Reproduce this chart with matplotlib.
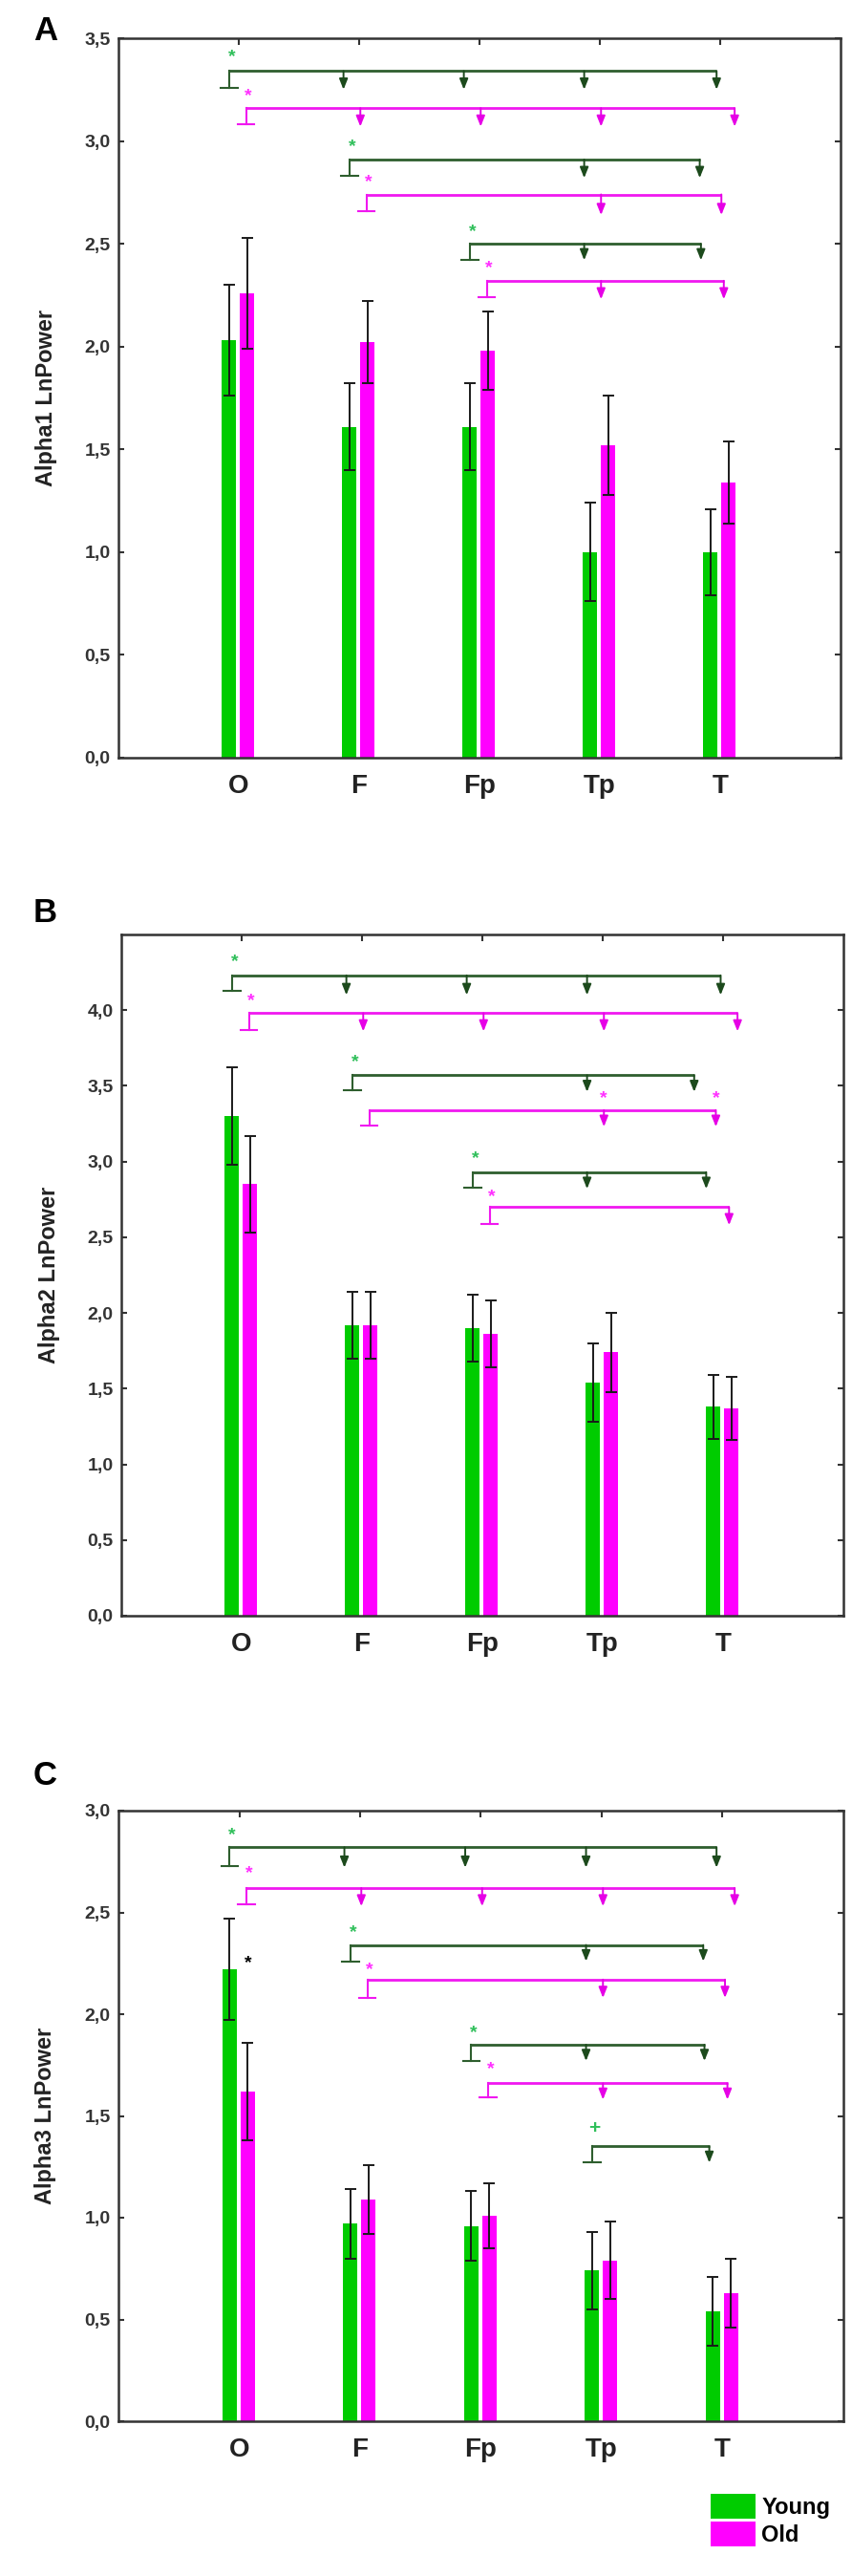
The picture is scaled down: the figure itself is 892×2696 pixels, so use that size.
import matplotlib
matplotlib.use("Agg")
import matplotlib.pyplot as plt
from matplotlib.patches import Patch
from matplotlib import font_manager
import numpy as np

# ---------------- data ----------------
categories = ["O", "F", "Fp", "Tp", "T"]

a_young = [2.03, 1.61, 1.61, 1.00, 1.00]
a_young_se = [0.27, 0.21, 0.21, 0.24, 0.21]
a_old = [2.26, 2.02, 1.98, 1.52, 1.34]
a_old_se = [0.27, 0.20, 0.19, 0.24, 0.20]

b_young = [3.30, 1.92, 1.90, 1.54, 1.38]
b_young_se = [0.32, 0.22, 0.22, 0.26, 0.21]
b_old = [2.85, 1.92, 1.86, 1.74, 1.37]
b_old_se = [0.32, 0.22, 0.22, 0.26, 0.21]

c_young = [2.22, 0.97, 0.96, 0.74, 0.54]
c_young_se = [0.25, 0.17, 0.17, 0.19, 0.17]
c_old = [1.62, 1.09, 1.01, 0.79, 0.63]
c_old_se = [0.24, 0.17, 0.16, 0.19, 0.17]

ylabels = ["Alpha1 LnPower", "Alpha2 LnPower", "Alpha3 LnPower"]
panel_letters = ["A", "B", "C"]
legend_labels = ["Young", "Old"]

# significance brackets: (group, start, targets, line_y, cap_y, tip_y, mark_y, end_shift, mark, mark_at)
a_brackets = [
    ("Y", "O", ["F", "Fp", "Tp", "T"], 3.34, 3.26, 3.25, 3.41, 0.10, "*", "start"),
    ("O", "O", ["F", "Fp", "Tp", "T"], 3.16, 3.08, 3.07, 3.22, 0.11, "*", "start"),
    ("Y", "F", ["Tp", "T"], 2.91, 2.83, 2.82, 2.97, -0.04, "*", "start"),
    ("O", "F", ["Tp", "T"], 2.74, 2.66, 2.64, 2.80, 0.00, "*", "start"),
    ("Y", "Fp", ["Tp", "T"], 2.50, 2.42, 2.42, 2.56, -0.03, "*", "start"),
    ("O", "Fp", ["Tp", "T"], 2.32, 2.24, 2.23, 2.38, 0.02, "*", "start"),
]
b_brackets = [
    ("Y", "O", ["F", "Fp", "Tp", "T"], 4.23, 4.13, 4.10, 4.32, 0.11, "*", "start"),
    ("O", "O", ["F", "Fp", "Tp", "T"], 3.98, 3.87, 3.86, 4.06, 0.11, "*", "start"),
    ("Y", "F", ["Tp", "T"], 3.57, 3.47, 3.46, 3.66, -0.11, "*", "start"),
    ("O", "F", ["Tp", "T"], 3.34, 3.24, 3.23, 3.42, -0.07, "*", "targets"),
    ("Y", "Fp", ["Tp", "T"], 2.93, 2.83, 2.82, 3.02, -0.01, "*", "start"),
    ("O", "Fp", ["T"], 2.70, 2.59, 2.58, 2.77, 0.04, "*", "start"),
]
c_brackets = [
    ("Y", "O", ["F", "Fp", "Tp", "T"], 2.82, 2.73, 2.72, 2.88, 0.08, "*", "start"),
    ("O", "O", ["F", "Fp", "Tp", "T"], 2.62, 2.54, 2.53, 2.69, 0.09, "*", "start"),
    ("Y", "F", ["Tp", "T"], 2.34, 2.26, 2.26, 2.40, -0.03, "*", "start"),
    ("O", "F", ["Tp", "T"], 2.17, 2.08, 2.08, 2.22, 0.01, "*", "start"),
    ("Y", "Fp", ["Tp", "T"], 1.85, 1.77, 1.77, 1.91, -0.02, "*", "start"),
    ("O", "Fp", ["Tp", "T"], 1.66, 1.59, 1.58, 1.73, 0.03, "*", "start"),
    ("Y", "Tp", ["T"], 1.35, 1.27, 1.27, 1.44, 0.02, "+", "start"),
]
# black asterisk (young vs old difference) in panel C
c_group_marks = [("O", 2.25)]

panels = [
    (a_young, a_young_se, a_old, a_old_se, 3.5, np.arange(0, 3.51, 0.5), a_brackets, []),
    (b_young, b_young_se, b_old, b_old_se, 4.5, np.arange(0, 4.01, 0.5), b_brackets, []),
    (c_young, c_young_se, c_old, c_old_se, 3.0, np.arange(0, 3.01, 0.5), c_brackets, c_group_marks),
]

# ---------------- style ----------------
GREEN = "#00CC00"
MAGENTA = "#FF00FF"
Y_LINE = "#2E5E2E"
Y_ARROW = "#1C4A1C"
Y_STAR = "#2FBF5A"
O_LINE = "#F018F0"
O_ARROW = "#E600E6"
O_STAR = "#FF30FF"
FRAME = "#333333"


def has_font(name):
    try:
        font_manager.findfont(font_manager.FontProperties(family=name), fallback_to_default=False)
        return True
    except Exception:
        return False


NARROW = (["Liberation Sans Narrow"] if has_font("Liberation Sans Narrow") else []) + ["Liberation Sans", "DejaVu Sans"]
SANS = ["Liberation Sans", "DejaVu Sans"]

W, H = 892, 2696
fig = plt.figure(figsize=(W / 100, H / 100), dpi=100)

# axes rectangles in pixels: left, top, right, bottom
rects = [(124, 40, 880, 793), (127, 978, 883, 1691), (124, 1895, 883, 2534)]
letter_pos = [(35, 32), (35, 955), (35, 1858)]

y_off = -0.08
o_off = 0.07
bw = 0.12
y_arrow_off = -0.13
o_arrow_off = 0.01
y_start_off = -0.08
o_start_off = 0.06

x = np.arange(len(categories))
idx = {c: i for i, c in enumerate(categories)}

for p, (yv, yse, ov, ose, ymax, yticks, brackets, gmarks) in enumerate(panels):
    l, t, r, b = rects[p]
    ax = fig.add_axes([l / W, 1 - b / H, (r - l) / W, (b - t) / H])
    ax.bar(x + y_off, yv, width=bw, color=GREEN, zorder=2)
    ax.bar(x + o_off, ov, width=bw, color=MAGENTA, zorder=2)
    ax.errorbar(x + y_off, yv, yerr=yse, fmt="none", ecolor="#1a1a1a",
                elinewidth=1.4, capsize=4, capthick=1.4, zorder=3)
    ax.errorbar(x + o_off, ov, yerr=ose, fmt="none", ecolor="#1a1a1a",
                elinewidth=1.4, capsize=4, capthick=1.4, zorder=3)

    ax.set_xlim(-1, 5)
    ax.set_ylim(0, ymax)
    ax.set_yticks(yticks)
    ax.set_yticklabels([f"{v:.1f}".replace(".", ",") for v in yticks],
                       family=NARROW, fontsize=14, fontweight="bold", color="#333333")
    ax.set_xticks(x)
    ax.set_xticklabels(categories, family=NARROW, fontsize=20, fontweight="bold", color="#222222")
    ax.tick_params(axis="x", which="both", bottom=False, top=True, direction="in",
                   length=5, width=1.5, color=FRAME, pad=12)
    ax.tick_params(axis="y", which="both", left=True, right=True, direction="in",
                   length=4, width=1.5, color=FRAME, pad=6)
    for s in ax.spines.values():
        s.set_color(FRAME)
        s.set_linewidth(1.8)
    ax.set_ylabel(ylabels[p], family=SANS, fontsize=17, fontweight="bold", color="#222222")
    ax.yaxis.set_label_coords(-0.085, 0.5)

    # brackets
    for (grp, start, targets, ly, cy, ty, my, eshift, mark, mark_at) in brackets:
        if grp == "Y":
            sx = idx[start] + y_start_off
            txs = [idx[tg] + y_arrow_off for tg in targets]
            lc, ac, sc = Y_LINE, Y_ARROW, Y_STAR
        else:
            sx = idx[start] + o_start_off
            txs = [idx[tg] + o_arrow_off for tg in targets]
            lc, ac, sc = O_LINE, O_ARROW, O_STAR
        txs[-1] += eshift
        ax.plot([sx, txs[-1]], [ly, ly], color=lc, lw=2.0, solid_capstyle="butt", zorder=4)
        ax.plot([sx, sx], [ly, cy], color=lc, lw=1.5, zorder=4)
        ax.plot([sx - 0.07, sx + 0.07], [cy, cy], color=lc, lw=1.5, zorder=4)
        for tx in txs:
            ax.annotate("", xy=(tx, ty), xytext=(tx, ly),
                        arrowprops=dict(arrowstyle="-|>,head_length=0.55,head_width=0.22",
                                        color=ac, lw=1.4, shrinkA=0, shrinkB=0,
                                        mutation_scale=12), zorder=5)
        if mark_at == "start":
            ax.text(sx + 0.02, my, mark, color=sc, fontsize=14 if mark == "*" else 15,
                    fontweight="bold", ha="center", va="center", family=SANS, zorder=5)
        else:
            for tx in txs:
                ax.text(tx, my, mark, color=sc, fontsize=14, fontweight="bold",
                        ha="center", va="center", family=SANS, zorder=5)

    for (cat, my) in gmarks:
        ax.text(idx[cat] + o_off, my, "*", color="black", fontsize=14, fontweight="bold",
                ha="center", va="center", family=SANS, zorder=5)

    lx, lyy = letter_pos[p]
    fig.text(lx / W, 1 - lyy / H, panel_letters[p], fontsize=25, fontweight="bold",
             family=SANS, ha="left", va="center", color="black")

handles = [Patch(facecolor=GREEN, edgecolor="none"), Patch(facecolor=MAGENTA, edgecolor="none")]
fig.legend(handles, legend_labels, loc="upper left",
           bbox_to_anchor=(744 / W, 1 - 2610 / H), frameon=False,
           prop=dict(family=NARROW, size=17, weight="bold"),
           handlelength=2.0, handleheight=1.3, handletextpad=0.25,
           labelspacing=0.15, borderpad=0.0, borderaxespad=0.0)

fig.savefig("out.png", dpi=100)
